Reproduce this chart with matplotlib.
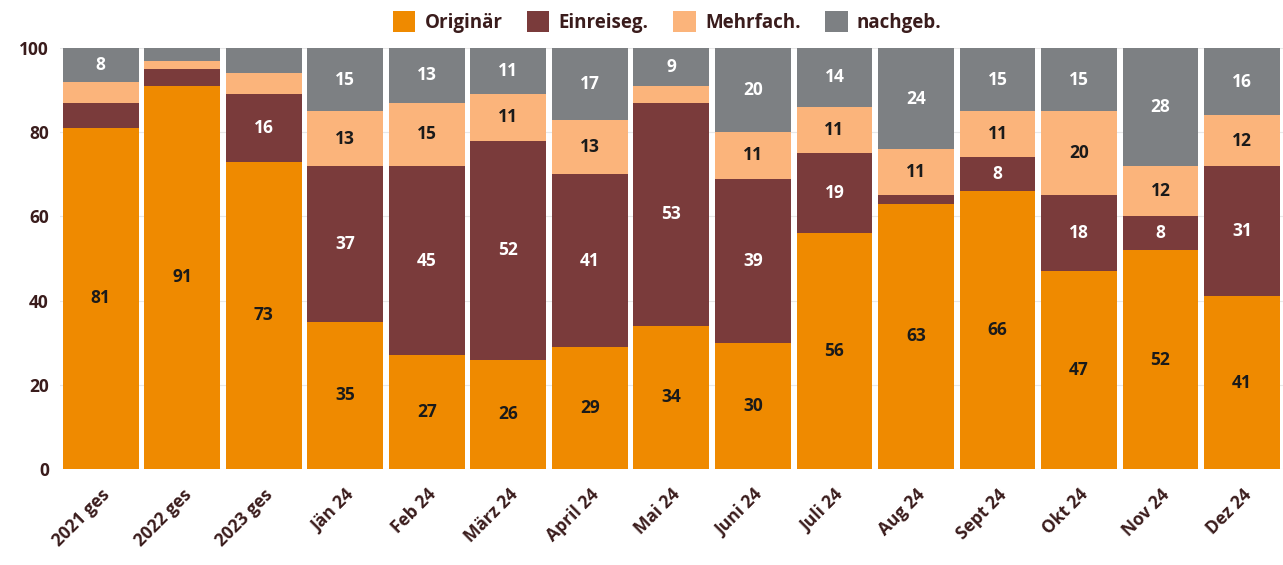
import matplotlib
matplotlib.use("Agg")
import matplotlib.pyplot as plt
import numpy as np

categories = ["2021 ges", "2022 ges", "2023 ges", "Jän 24", "Feb 24", "März 24", "April 24",
              "Mai 24", "Juni 24", "Juli 24", "Aug 24", "Sept 24", "Okt 24", "Nov 24", "Dez 24"]
originaer = [81, 91, 73, 35, 27, 26, 29, 34, 30, 56, 63, 66, 47, 52, 41]
einreiseg = [6, 4, 16, 37, 45, 52, 41, 53, 39, 19, 2, 8, 18, 8, 31]
mehrfach = [5, 2, 5, 13, 15, 11, 13, 4, 11, 11, 11, 11, 20, 12, 12]
nachgeb = [8, 3, 6, 15, 13, 11, 17, 9, 20, 14, 24, 15, 15, 28, 16]
series_names = ["Originär", "Einreiseg.", "Mehrfach.", "nachgeb."]
yticks = [0, 20, 40, 60, 80, 100]

colors = ["#EF8A00", "#7A3B3B", "#FBB47B", "#7D8083"]
label_colors = ["#1a1a1a", "white", "#1a1a1a", "white"]
tick_color = "#3A1C1C"

plt.rcParams['font.family'] = ['Open Sans', 'DejaVu Sans']
fig = plt.figure(figsize=(12.83, 5.65), dpi=100)
ax = fig.add_axes([0.0468, 0.170, 0.953, 0.745])

x = np.arange(len(categories))
bottom = np.zeros(len(categories))
series = [originaer, einreiseg, mehrfach, nachgeb]
width = 0.93
for vals, name, c, lc in zip(series, series_names, colors, label_colors):
    vals = np.array(vals, dtype=float)
    ax.bar(x, vals, width, bottom=bottom, color=c, label=name, zorder=3, linewidth=0)
    for xi, v, b in zip(x, vals, bottom):
        if v >= 8:
            ax.text(xi, b + v / 2, f"{int(v)}", ha="center", va="center",
                    color=lc, fontsize=12.5, fontweight="bold", zorder=4)
    bottom += vals

ax.set_xlim(-0.5, len(categories) - 0.5)
ax.set_ylim(0, 100)
ax.set_yticks(yticks)
ax.set_yticklabels([str(t) for t in yticks], fontsize=12.5, fontweight="bold", color=tick_color)
ax.set_xticks(x)
ax.set_xticklabels(categories, rotation=45, ha="right", rotation_mode="anchor",
                   fontsize=12.5, fontweight="bold", color=tick_color)
ax.tick_params(axis="both", length=0, pad=8)
ax.tick_params(axis="x", pad=12)
for s in ax.spines.values():
    s.set_visible(False)
ax.yaxis.grid(True, color="#E8E8E8", linewidth=0.8, zorder=0)
ax.set_axisbelow(True)

leg = fig.legend(loc="upper center", bbox_to_anchor=(0.52, 1.01), ncol=4, frameon=False,
                 prop={"size": 13.5, "weight": "bold"}, handlelength=1.2, handleheight=1.3,
                 columnspacing=1.3, handletextpad=0.5)
for t in leg.get_texts():
    t.set_color(tick_color)

fig.savefig("out.png", dpi=100)
